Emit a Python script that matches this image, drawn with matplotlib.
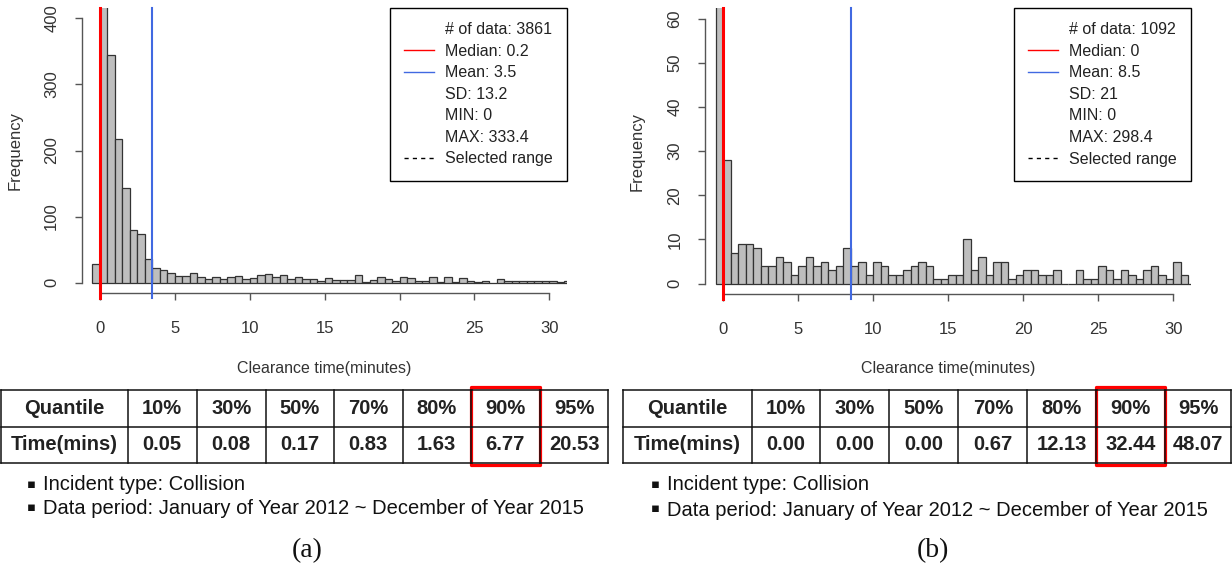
import numpy as np
import matplotlib
matplotlib.use("Agg")
import matplotlib.pyplot as plt
from matplotlib.lines import Line2D
from matplotlib.patches import Rectangle

plt.rcParams['font.family'] = ['Liberation Sans', 'DejaVu Sans']

# ---------------- data ----------------
BIN_START = -0.5
BIN_WIDTH = 0.5

counts_a = [28, 2440, 345, 218, 144, 80, 73, 36, 22, 19, 15, 10, 10, 15, 9, 5,
            9, 5, 9, 10, 5, 7, 11, 13, 9, 11, 5, 9, 5, 5, 3, 7,
            4, 4, 4, 12, 1, 4, 9, 5, 3, 9, 7, 3, 3, 9, 1, 9,
            1, 7, 3, 1, 3, 0, 5, 2, 2, 2, 2, 2, 2, 2, 1, 3]

counts_b = [735, 28, 7, 9, 9, 8, 4, 4, 6, 5, 2, 4, 6, 4, 5, 3,
            4, 8, 4, 5, 2, 5, 4, 2, 2, 3, 4, 5, 4, 1, 1, 2,
            2, 10, 3, 6, 2, 5, 5, 1, 2, 3, 3, 2, 2, 3, 0, 0,
            3, 1, 1, 4, 3, 1, 3, 2, 1, 3, 4, 2, 1, 5, 2, 0]

median_line_a = 0.02
mean_a = 3.5
median_b = 0.0
mean_b = 8.5

legend_a = ['# of data: 3861', 'Median: 0.2', 'Mean: 3.5', 'SD: 13.2',
            'MIN: 0', 'MAX: 333.4', 'Selected range']
legend_b = ['# of data: 1092', 'Median: 0', 'Mean: 8.5', 'SD: 21',
            'MIN: 0', 'MAX: 298.4', 'Selected range']

yticks_a = [0, 100, 200, 300, 400]
yticks_b = [0, 10, 20, 30, 40, 50, 60]
xticks = [0, 5, 10, 15, 20, 25, 30]

quantile_labels = ['10%', '30%', '50%', '70%', '80%', '90%', '95%']
time_a = ['0.05', '0.08', '0.17', '0.83', '1.63', '6.77', '20.53']
time_b = ['0.00', '0.00', '0.00', '0.67', '12.13', '32.44', '48.07']
highlight_col = 5  # 90%

bullets = ['Incident type: Collision',
           'Data period: January of Year 2012 ~ December of Year 2015']
panel_labels = ['(a)', '(b)']

# ---------------- layout ----------------
W, H = 1232, 571
fig = plt.figure(figsize=(W / 100, H / 100), dpi=100)
fig.patch.set_facecolor('white')


def px_axes(x0, x1, ytop, ybot):
    return fig.add_axes([x0 / W, 1 - ybot / H, (x1 - x0) / W, (ybot - ytop) / H])


AX_COL = '#555555'
TXT_COL = '#333333'


def draw_hist(ax, counts, yticks, median, mean, labels, ylab_x, xlab_y):
    edges = BIN_START + BIN_WIDTH * np.arange(len(counts))
    ax.bar(edges, counts, width=BIN_WIDTH, align='edge', color='#BEBEBE',
           edgecolor='#333333', linewidth=0.9, zorder=2)
    top = yticks[-1]
    ax.set_xlim(-1.2, 31.2)
    ax.set_ylim(-0.04 * top, 1.04 * top)
    ax.axvline(median, ymin=-0.018, ymax=1, color='#FF0000', lw=2.2,
               clip_on=False, zorder=3)
    ax.axvline(mean, ymin=-0.018, ymax=1, color='#4169E1', lw=1.5,
               clip_on=False, zorder=3)
    for s in ['top', 'right']:
        ax.spines[s].set_visible(False)
    ax.spines['left'].set_bounds(yticks[0], yticks[-1])
    ax.spines['bottom'].set_bounds(xticks[0], xticks[-1])
    for s in ['left', 'bottom']:
        ax.spines[s].set_color(AX_COL)
        ax.spines[s].set_linewidth(1.0)
    ax.set_xticks(xticks)
    ax.set_yticks(yticks)
    ax.tick_params(axis='both', length=5, width=1.0, color=AX_COL,
                   labelsize=12, labelcolor=TXT_COL)
    ax.tick_params(axis='y', pad=16.8)
    ax.tick_params(axis='x', pad=20.0)
    for t in ax.get_yticklabels():
        t.set_rotation(90)
        t.set_ha('center')
        t.set_va('center')
    for t in ax.get_xticklabels():
        t.set_va('center')
    ax.set_ylabel('Frequency', fontsize=12, color=TXT_COL)
    ax.yaxis.set_label_coords(ylab_x, 0.5)
    ax.yaxis.label.set_va('center')
    ax.set_xlabel('Clearance time(minutes)', fontsize=11.5, color=TXT_COL)
    ax.xaxis.set_label_coords(0.5, xlab_y)
    ax.xaxis.label.set_va('center')
    ax.set_facecolor('none')

    handles = [Line2D([], [], color='none'),
               Line2D([], [], color='#FF0000', lw=1.0),
               Line2D([], [], color='#4169E1', lw=1.0),
               Line2D([], [], color='none'),
               Line2D([], [], color='none'),
               Line2D([], [], color='none'),
               Line2D([], [], color='black', lw=1.0, ls=(0, (3, 3)))]
    leg = ax.legend(handles, labels, loc='upper right', bbox_to_anchor=(1, 1),
                    borderaxespad=0.0, fontsize=11.5, frameon=True, fancybox=False,
                    edgecolor='black', framealpha=1, handlelength=1.85,
                    handletextpad=0.7, labelspacing=0.41, borderpad=0.9)
    leg.get_frame().set_linewidth(1.0)
    for t in leg.get_texts():
        t.set_color('#222222')


ax_a = px_axes(82, 567.3, 7.7, 293.3)
draw_hist(ax_a, counts_a, yticks_a, median_line_a, mean_a, legend_a,
          (15 - 82) / 485.3, -(368 - 293.3) / 285.6)

ax_b = px_axes(705.3, 1191.3, 7.9, 294.3)
draw_hist(ax_b, counts_b, yticks_b, median_b, mean_b, legend_b,
          (636.7 - 705.3) / 486.0, -(368 - 294.3) / 286.4)

# ---------------- tables / notes overlay ----------------
ov = fig.add_axes([0, 0, 1, 1])
ov.set_xlim(0, W)
ov.set_ylim(H, 0)
ov.axis('off')
ov.patch.set_visible(False)

row_y = [390, 426.5, 463]
cols_a = [1, 127.7, 196.7, 265.7, 334, 402.7, 470.5, 540, 608.3]
cols_b = [623.3, 751.7, 820, 889.3, 958.3, 1027.3, 1096.3, 1165.3, 1231]


def draw_table(cols, times):
    for y in row_y:
        ov.plot([cols[0], cols[-1]], [y, y], color='#111111', lw=1.1,
                solid_capstyle='projecting')
    for x in cols:
        ov.plot([x, x], [row_y[0], row_y[-1]], color='#111111', lw=1.1,
                solid_capstyle='projecting')
    r1 = ['Quantile'] + quantile_labels
    r2 = ['Time(mins)'] + times
    for i in range(len(cols) - 1):
        xc = (cols[i] + cols[i + 1]) / 2
        ov.text(xc, (row_y[0] + row_y[1]) / 2, r1[i], ha='center', va='center',
                fontsize=14.5, fontweight='bold', color='#222222')
        ov.text(xc, (row_y[1] + row_y[2]) / 2, r2[i], ha='center', va='center',
                fontsize=14.5, fontweight='bold', color='#222222')
    c0 = cols[highlight_col + 1]
    c1 = cols[highlight_col + 2]
    ov.add_patch(Rectangle((c0, row_y[0] - 3.5), c1 - c0, row_y[-1] - row_y[0] + 5.5,
                           fill=False, edgecolor='#FF0000', lw=2.3,
                           joinstyle='round'))


draw_table(cols_a, time_a)
draw_table(cols_b, time_b)


def draw_bullets(x_bullet, x_text, ys):
    for txt, y in zip(bullets, ys):
        ov.text(x_bullet, y - 1, '\u25aa', ha='center', va='center', fontsize=9.5,
                family=['DejaVu Sans'], color='#111111')
        ov.text(x_text, y, txt, ha='left', va='center', fontsize=14.5,
                color='#111111')


draw_bullets(31.5, 43.3, [485, 508.5])
draw_bullets(655, 666.7, [485, 510])

ov.text(307, 551, panel_labels[0], ha='center', va='center', fontsize=20,
        family=['Liberation Serif', 'DejaVu Serif'], color='#111111')
ov.text(932.5, 551, panel_labels[1], ha='center', va='center', fontsize=20,
        family=['Liberation Serif', 'DejaVu Serif'], color='#111111')

fig.savefig('out.png', dpi=100)
